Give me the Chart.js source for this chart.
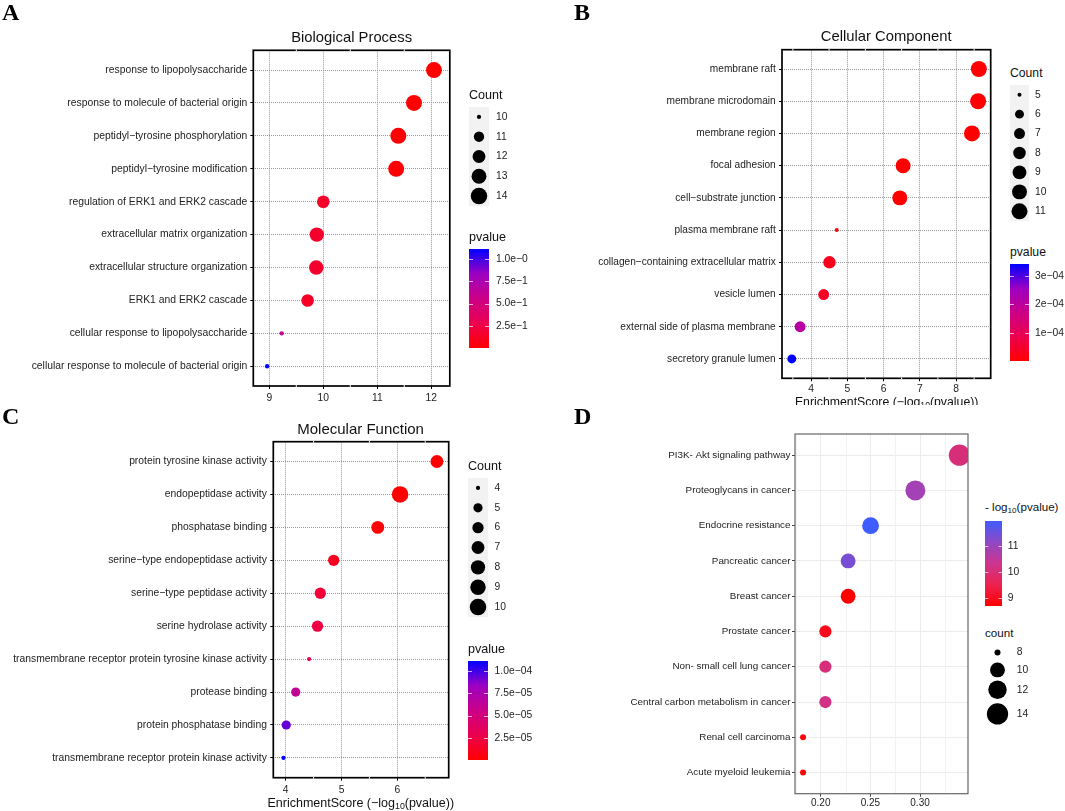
<!DOCTYPE html>
<html lang="en">
<head>
    <meta charset="UTF-8">
    <title>Enrichment dot plots</title>
    <script src="https://cdn.jsdelivr.net/npm/chart.js"></script>
    <style>
        html, body { margin: 0; padding: 0; background: #fff; }
        body { position: relative; width: 1065px; height: 811px; overflow: hidden; font-family: "Liberation Sans", Arial, sans-serif; color: #111; }
        canvas { position: absolute; }
        .t { position: absolute; white-space: nowrap; line-height: 1; z-index: 2; }
        .c { transform: translate(-50%, -50%); }
        .l { transform: translateY(-50%); }
        .letter { font: bold 24px "Liberation Serif", serif; color: #000; }
        .title { font-size: 14.8px; }
        .leg { font-size: 12.6px; }
        .xlab { font-size: 12.5px; }
        sub { font-size: .7em; line-height: 0; vertical-align: -.25em; }
        #bClip { position: absolute; left: 780px; top: 388px; width: 210px; height: 17px; overflow: hidden; z-index: 2; }
    </style>
</head>
<body>
    <div class="t l letter" style="left:2px;top:12px">A</div>
    <div class="t l letter" style="left:574px;top:12px">B</div>
    <div class="t l letter" style="left:2px;top:416px">C</div>
    <div class="t l letter" style="left:574px;top:416px">D</div>

    <div class="t c title" style="left:351.6px;top:37px">Biological Process</div>
    <div class="t c title" style="left:886.2px;top:36px">Cellular Component</div>
    <div class="t c title" style="left:360.6px;top:428px;font-size:15px">Molecular Function</div>

    <div class="t l leg" style="left:469px;top:95px">Count</div>
    <div class="t l leg" style="left:469px;top:237px">pvalue</div>
    <div class="t l leg" style="left:1010px;top:73px;font-size:12.2px">Count</div>
    <div class="t l leg" style="left:1010px;top:252px;font-size:12.2px">pvalue</div>
    <div class="t l leg" style="left:468px;top:466px">Count</div>
    <div class="t l leg" style="left:468px;top:649px">pvalue</div>
    <div class="t l leg" style="left:985px;top:507px;font-size:11.6px">- log<sub>10</sub>(pvalue)</div>
    <div class="t l leg" style="left:985px;top:633px;font-size:11.6px">count</div>

    <div id="bClip"><div class="t c xlab" style="left:106.7px;top:13.5px;font-size:12.3px">EnrichmentScore (−log<sub>10</sub>(pvalue))</div></div>
    <div class="t c xlab" style="left:360.8px;top:802.7px">EnrichmentScore (−log<sub>10</sub>(pvalue))</div>

    <script>
        // A - Biological Process
        const bpTerms = ['response to lipopolysaccharide', 'response to molecule of bacterial origin', 'peptidyl−tyrosine phosphorylation', 'peptidyl−tyrosine modification', 'regulation of ERK1 and ERK2 cascade', 'extracellular matrix organization', 'extracellular structure organization', 'ERK1 and ERK2 cascade', 'cellular response to lipopolysaccharide', 'cellular response to molecule of bacterial origin'];
        const bpScores = [12.05, 11.68, 11.39, 11.35, 10.0, 9.88, 9.87, 9.71, 9.23, 8.96];
        const bpCounts = [14, 14, 14, 14, 12, 13, 13, 12, 10, 10];
        const bpPvalues = [0.005, 0.01, 0.02, 0.02, 0.15, 0.16, 0.16, 0.14, 0.6, 1.108];
        const bpXTicks = [9, 10, 11, 12];
        const bpXMinor = [9.5, 10.5, 11.5];
        const bpLegendCounts = [10, 11, 12, 13, 14];
        const bpPTicks = [1.0, 0.75, 0.5, 0.25];
        const bpPLabels = ['1.0e−0', '7.5e−1', '5.0e−1', '2.5e−1'];

        // B - Cellular Component
        const ccTerms = ['membrane raft', 'membrane microdomain', 'membrane region', 'focal adhesion', 'cell−substrate junction', 'plasma membrane raft', 'collagen−containing extracellular matrix', 'vesicle lumen', 'external side of plasma membrane', 'secretory granule lumen'];
        const ccScores = [8.63, 8.61, 8.44, 6.54, 6.45, 4.71, 4.51, 4.35, 3.70, 3.47];
        const ccCounts = [11, 11, 11, 10, 10, 5, 8, 7, 7, 6];
        const ccPvalues = [0.000002, 0.000002, 0.000003, 0.000003, 0.000004, 0.000005, 0.00003, 0.00004, 0.00021, 0.000341];
        const ccXTicks = [4, 5, 6, 7, 8];
        const ccXMinor = [3.5, 4.5, 5.5, 6.5, 7.5, 8.5];
        const ccLegendCounts = [5, 6, 7, 8, 9, 10, 11];
        const ccPTicks = [0.0003, 0.0002, 0.0001];
        const ccPLabels = ['3e−04', '2e−04', '1e−04'];

        // C - Molecular Function
        const mfTerms = ['protein tyrosine kinase activity', 'endopeptidase activity', 'phosphatase binding', 'serine−type endopeptidase activity', 'serine−type peptidase activity', 'serine hydrolase activity', 'transmembrane receptor protein tyrosine kinase activity', 'protease binding', 'protein phosphatase binding', 'transmembrane receptor protein kinase activity'];
        const mfScores = [6.71, 6.05, 5.65, 4.86, 4.62, 4.57, 4.42, 4.18, 4.01, 3.96];
        const mfCounts = [7, 10, 7, 6, 6, 6, 4, 5, 5, 4];
        const mfPvalues = [0.0000004, 0.000001, 0.000002, 0.000012, 0.00002, 0.000024, 0.000033, 0.000062, 0.000093, 0.000111];
        const mfXTicks = [4, 5, 6];
        const mfXMinor = [4.5, 5.5, 6.5];
        const mfLegendCounts = [4, 5, 6, 7, 8, 9, 10];
        const mfPTicks = [0.0001, 0.000075, 0.00005, 0.000025];
        const mfPLabels = ['1.0e−04', '7.5e−05', '5.0e−05', '2.5e−05'];

        // D - KEGG pathways
        const kgTerms = ['PI3K- Akt signaling pathway', 'Proteoglycans in cancer', 'Endocrine resistance', 'Pancreatic cancer', 'Breast cancer', 'Prostate cancer', 'Non- small cell lung cancer', 'Central carbon metabolism in cancer', 'Renal cell carcinoma', 'Acute myeloid leukemia'];
        const kgScores = [0.3397, 0.2953, 0.2502, 0.2276, 0.2276, 0.2047, 0.2047, 0.2047, 0.1822, 0.1822];
        const kgCounts = [14, 13, 11, 10, 10, 9, 9, 9, 8, 8];
        const kgLogP = [10.05, 10.9, 11.98, 11.4, 8.7, 8.95, 10.05, 10.2, 8.8, 8.75];
        const kgXTicks = [0.20, 0.25, 0.30];
        const kgXMinor = [0.175, 0.225, 0.275, 0.325];
        const kgLegendCounts = [8, 10, 12, 14];
        const kgPTicks = [11, 10, 9];
        const kgPLabels = ['11', '10', '9'];

        const RED_BLUE = ['#ff0000', '#ec004e', '#cb0087', '#9c00c2', '#0000ff'];
        const RED_BLUE_SOFT = ['#ff0000', '#ec2250', '#cc3590', '#8f48c4', '#3f5cff'];
        const FONT = 'Liberation Sans';
        const SMALL = 10.3;

        function rampColor(stops, t) {
            t = Math.min(1, Math.max(0, t)) * (stops.length - 1);
            const i = Math.min(stops.length - 2, Math.floor(t));
            const f = t - i;
            const rgb = s => [1, 3, 5].map(k => parseInt(s.substr(k, 2), 16));
            const a = rgb(stops[i]), b = rgb(stops[i + 1]);
            return 'rgb(' + a.map((v, k) => Math.round(v + (b[k] - v) * f)).join(',') + ')';
        }

        function addCanvas(left, top, width, height) {
            const c = document.createElement('canvas');
            c.width = width;
            c.height = height;
            c.style.left = left + 'px';
            c.style.top = top + 'px';
            document.body.appendChild(c);
            return c;
        }

        // diameter from count, same square root area mapping as ggplot scale_size
        function sizeFn(minCount, maxCount, minD, maxD) {
            return n => (minD + (maxD - minD) * Math.sqrt((n - minCount) / (maxCount - minCount))) / 2;
        }

        function dotPlot(o) {
            const canvas = addCanvas(0, o.canvasTop, o.canvasW, o.canvasH);
            const flat = o.flat;
            const radius = sizeFn(Math.min(...o.counts), Math.max(...o.counts), o.minD, o.maxD);
            const frame = {
                id: 'frame',
                beforeDatasetsDraw(chart) {
                    if (!flat) return;
                    const { ctx, chartArea: a, scales: { x } } = chart;
                    ctx.save();
                    ctx.strokeStyle = '#f2f2f2';
                    ctx.lineWidth = 1;
                    o.xMinor.forEach(v => {
                        const px = Math.round(x.getPixelForValue(v)) + 0.5;
                        if (px < a.left || px > a.right) return;
                        ctx.beginPath();
                        ctx.moveTo(px, a.top);
                        ctx.lineTo(px, a.bottom);
                        ctx.stroke();
                    });
                    ctx.restore();
                },
                afterDraw(chart) {
                    const { ctx, chartArea: a, scales: { x } } = chart;
                    ctx.save();
                    ctx.strokeStyle = flat ? '#666' : '#000';
                    ctx.lineWidth = flat ? 1.2 : 1.7;
                    ctx.strokeRect(a.left, a.top, a.right - a.left, a.bottom - a.top);
                    if (!flat) {
                        // white minor breaks cut through the panel border
                        ctx.strokeStyle = '#fff';
                        ctx.lineWidth = 1;
                        o.xMinor.forEach(v => {
                            const px = x.getPixelForValue(v);
                            if (px < a.left || px > a.right) return;
                            [a.top, a.bottom].forEach(py => {
                                ctx.beginPath();
                                ctx.moveTo(px, py - 1);
                                ctx.lineTo(px, py + 1);
                                ctx.stroke();
                            });
                        });
                    }
                    ctx.restore();
                }
            };
            const grid = flat
                ? { color: '#ececec', lineWidth: 1, tickColor: '#444', tickLength: 3, tickBorderDash: [] }
                : { color: '#999', lineWidth: 1, tickColor: '#000', tickLength: 3, tickWidth: 1, tickBorderDash: [] };
            const border = flat ? { display: false } : { display: false, dash: [1, 1] };
            return new Chart(canvas, {
                type: 'scatter',
                data: {
                    datasets: [{
                        data: o.scores.map((x, i) => ({ x, y: i })),
                        pointRadius: o.counts.map(radius),
                        pointHoverRadius: o.counts.map(radius),
                        pointBackgroundColor: o.colors,
                        pointBorderWidth: 0
                    }]
                },
                options: {
                    responsive: false,
                    animation: false,
                    layout: { autoPadding: false, padding: { left: 0, top: o.box.top - o.canvasTop, right: o.canvasW - o.box.right, bottom: 0 } },
                    plugins: { legend: { display: false }, tooltip: { enabled: false } },
                    scales: {
                        x: {
                            type: 'linear',
                            min: o.xMin,
                            max: o.xMax,
                            afterBuildTicks: axis => { axis.ticks = o.xTicks.map(value => ({ value })); },
                            afterFit: axis => {
                                axis.height = o.canvasTop + o.canvasH - o.box.bottom;
                                axis.paddingLeft = axis.paddingRight = 0;
                            },
                            border,
                            grid,
                            ticks: {
                                autoSkip: false,
                                maxRotation: 0,
                                padding: o.xPad,
                                color: '#222',
                                font: { family: FONT, size: flat ? 10 : SMALL },
                                callback: v => (flat ? v.toFixed(2) : String(v))
                            }
                        },
                        y: {
                            type: 'linear',
                            reverse: true,
                            min: -0.6,
                            max: o.terms.length - 0.4,
                            afterBuildTicks: axis => { axis.ticks = o.terms.map((_, value) => ({ value })); },
                            afterFit: axis => {
                                axis.width = o.box.left;
                                axis.paddingTop = axis.paddingBottom = 0;
                            },
                            border,
                            grid,
                            ticks: {
                                autoSkip: false,
                                padding: o.yPad,
                                color: '#222',
                                font: { family: FONT, size: o.labelSize },
                                callback: v => o.terms[v]
                            }
                        }
                    }
                },
                plugins: [frame]
            });
        }

        // scale on the right of a key or bar area, labels hang off it
        function sideScale(o, room, ticks, labels, reverse, min, max) {
            return {
                type: 'linear',
                position: 'right',
                reverse,
                min,
                max,
                afterBuildTicks: axis => { axis.ticks = ticks.map(value => ({ value })); },
                afterFit: axis => {
                    axis.width = room;
                    axis.paddingTop = axis.paddingBottom = 0;
                },
                border: { display: false },
                grid: { display: false, drawTicks: false },
                ticks: {
                    autoSkip: false,
                    padding: o.labelPad,
                    color: '#222',
                    font: { family: FONT, size: SMALL },
                    callback: (v, i) => String(labels[i])
                }
            };
        }

        function countLegend(o) {
            const room = 40;
            const canvas = addCanvas(o.left, o.top - 2, o.width + room, o.height + 4);
            const keyH = o.keyHeights || o.counts.map(() => o.height / o.counts.length);
            const centers = keyH.map((h, i) => keyH.slice(0, i).reduce((a, b) => a + b, 0) + h / 2);
            const total = keyH.reduce((a, b) => a + b, 0);
            const back = {
                id: 'back',
                beforeDatasetsDraw(chart) {
                    if (!o.grey) return;
                    const { ctx, chartArea: a } = chart;
                    ctx.save();
                    ctx.fillStyle = '#f2f2f2';
                    ctx.fillRect(a.left, a.top, a.right - a.left, a.bottom - a.top);
                    ctx.restore();
                }
            };
            const radius = sizeFn(o.counts[0], o.counts[o.counts.length - 1], o.minD, o.maxD);
            return new Chart(canvas, {
                type: 'scatter',
                data: {
                    datasets: [{
                        data: centers.map(y => ({ x: 0.5, y })),
                        pointRadius: o.counts.map(radius),
                        pointBackgroundColor: '#000',
                        pointBorderWidth: 0
                    }]
                },
                options: {
                    responsive: false,
                    animation: false,
                    layout: { autoPadding: false, padding: { left: 0, top: 2, right: 0, bottom: 2 } },
                    plugins: { legend: { display: false }, tooltip: { enabled: false } },
                    scales: {
                        x: { type: 'linear', display: false, min: 0, max: 1 },
                        y: sideScale(o, room, centers, o.counts, true, 0, total)
                    }
                },
                plugins: [back]
            });
        }

        function colorBar(o) {
            const room = 50;
            const canvas = addCanvas(o.left, o.top - 2, o.width + room, o.height + 4);
            const marks = {
                id: 'marks',
                afterDatasetsDraw(chart) {
                    const { ctx, chartArea: a, scales: { y } } = chart;
                    const w = (a.right - a.left) / 5;
                    ctx.save();
                    ctx.strokeStyle = 'rgba(255,255,255,0.7)';
                    ctx.lineWidth = 1;
                    o.ticks.forEach(v => {
                        const py = Math.round(y.getPixelForValue(v)) + 0.5;
                        [[a.left, a.left + w], [a.right - w, a.right]].forEach(([x0, x1]) => {
                            ctx.beginPath();
                            ctx.moveTo(x0, py);
                            ctx.lineTo(x1, py);
                            ctx.stroke();
                        });
                    });
                    ctx.restore();
                }
            };
            return new Chart(canvas, {
                type: 'bar',
                data: {
                    labels: ['scale'],
                    datasets: [{
                        data: [[o.min, o.max]],
                        barPercentage: 1,
                        categoryPercentage: 1,
                        borderWidth: 0,
                        backgroundColor: ctx => {
                            const a = ctx.chart.chartArea;
                            if (!a) return o.stops[0];
                            const g = ctx.chart.ctx.createLinearGradient(0, a.bottom, 0, a.top);
                            o.stops.forEach((s, i) => g.addColorStop(i / (o.stops.length - 1), s));
                            return g;
                        }
                    }]
                },
                options: {
                    responsive: false,
                    animation: false,
                    layout: { autoPadding: false, padding: { left: 0, top: 2, right: 0, bottom: 2 } },
                    plugins: { legend: { display: false }, tooltip: { enabled: false } },
                    scales: {
                        x: { display: false },
                        y: sideScale(o, room, o.ticks, o.labels, false, o.min, o.max)
                    }
                },
                plugins: [marks]
            });
        }

        const pColors = (values, min, max, stops) => values.map(p => rampColor(stops, (p - min) / (max - min)));

        dotPlot({
            canvasTop: 0, canvasW: 460, canvasH: 405,
            box: { left: 253.3, top: 50.3, right: 449.8, bottom: 386 },
            xMin: 8.704, xMax: 12.343, xPad: 3, yPad: 3, labelSize: 10.35,
            terms: bpTerms, scores: bpScores, counts: bpCounts, xTicks: bpXTicks, xMinor: bpXMinor,
            minD: 4.4, maxD: 16,
            colors: pColors(bpPvalues, 0.005, 1.108, RED_BLUE)
        });
        countLegend({ left: 469, top: 107, width: 20, height: 99, grey: true, counts: bpLegendCounts, minD: 4.2, maxD: 16.5, labelPad: 7 });
        colorBar({ left: 469, top: 249, width: 20, height: 99, min: 0.005, max: 1.108, ticks: bpPTicks, labels: bpPLabels, stops: RED_BLUE, labelPad: 7 });

        dotPlot({
            canvasTop: 0, canvasW: 1000, canvasH: 405,
            box: { left: 782, top: 49.7, right: 990.7, bottom: 378.3 },
            xMin: 3.2, xMax: 8.957, xPad: 2, yPad: 3.3, labelSize: 10.15,
            terms: ccTerms, scores: ccScores, counts: ccCounts, xTicks: ccXTicks, xMinor: ccXMinor,
            minD: 4, maxD: 16,
            colors: pColors(ccPvalues, 0.000002, 0.000341, RED_BLUE)
        });
        countLegend({ left: 1010, top: 85, width: 19, height: 136, grey: true, counts: ccLegendCounts, minD: 4, maxD: 16, labelPad: 6 });
        colorBar({ left: 1010, top: 264, width: 19, height: 97, min: 0.000002, max: 0.000341, ticks: ccPTicks, labels: ccPLabels, stops: RED_BLUE, labelPad: 6 });

        dotPlot({
            canvasTop: 405, canvasW: 460, canvasH: 406,
            box: { left: 273.3, top: 441.7, right: 448.7, bottom: 777.7 },
            xMin: 3.778, xMax: 6.921, xPad: 3, yPad: 3.4, labelSize: 10.33,
            terms: mfTerms, scores: mfScores, counts: mfCounts, xTicks: mfXTicks, xMinor: mfXMinor,
            minD: 4.2, maxD: 16.5,
            colors: pColors(mfPvalues, 0.0000004, 0.000111, RED_BLUE)
        });
        countLegend({ left: 468, top: 478, width: 20, height: 139, grey: true, counts: mfLegendCounts, minD: 4.2, maxD: 16.5, labelPad: 6.6 });
        colorBar({ left: 468, top: 661, width: 20, height: 99, min: 0.0000004, max: 0.000111, ticks: mfPTicks, labels: mfPLabels, stops: RED_BLUE, labelPad: 6.6 });

        dotPlot({
            canvasTop: 405, canvasW: 980, canvasH: 406, flat: true,
            box: { left: 795, top: 434, right: 968, bottom: 793.7 },
            xMin: 0.1741, xMax: 0.3483, xPad: 1, yPad: 1.5, labelSize: 9.83,
            terms: kgTerms, scores: kgScores, counts: kgCounts, xTicks: kgXTicks, xMinor: kgXMinor,
            minD: 6, maxD: 21.3,
            colors: pColors(kgLogP, 8.7, 11.98, RED_BLUE_SOFT)
        });
        countLegend({ left: 985, top: 644, width: 25, height: 83, keyHeights: [17, 17.6, 22, 26], counts: kgLegendCounts, minD: 6, maxD: 21.3, labelPad: 6.8 });
        colorBar({ left: 985, top: 521, width: 17, height: 85, min: 8.7, max: 11.98, ticks: kgPTicks, labels: kgPLabels, stops: RED_BLUE_SOFT, labelPad: 5.8 });
    </script>
</body>
</html>
